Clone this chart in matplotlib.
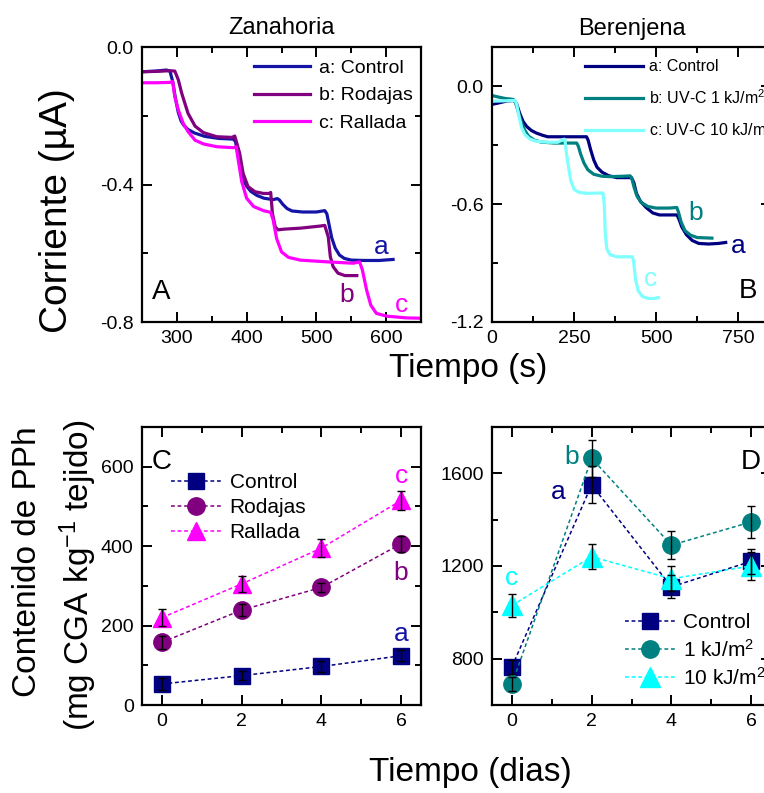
import matplotlib
matplotlib.use("Agg")
import matplotlib.pyplot as plt
from matplotlib.ticker import MultipleLocator
import numpy as np

plt.rcParams['font.family'] = ['Liberation Sans', 'DejaVu Sans']
plt.rcParams['mathtext.fontset'] = 'custom'
plt.rcParams['mathtext.rm'] = 'Liberation Sans'
plt.rcParams['mathtext.it'] = 'Liberation Sans:italic'
plt.rcParams['axes.unicode_minus'] = False

# ---------------- Panel A: Zanahoria amperometric traces ----------------
zan_a_t = [250, 270, 285, 290, 294, 298, 302, 306, 310, 316, 325, 340, 360, 381, 384, 387,
           391, 395, 400, 406, 415, 425, 438, 444, 447, 452, 458, 465, 480, 500, 512, 515,
           518, 522, 527, 533, 540, 550, 570, 590, 610]
zan_a_i = [-0.072, -0.070, -0.067, -0.070, -0.100, -0.150, -0.190, -0.215, -0.228, -0.240,
           -0.250, -0.260, -0.266, -0.268, -0.275, -0.305, -0.350, -0.385, -0.405, -0.420,
           -0.432, -0.440, -0.444, -0.441, -0.445, -0.458, -0.470, -0.477, -0.480, -0.480,
           -0.476, -0.485, -0.515, -0.555, -0.585, -0.605, -0.615, -0.620, -0.621, -0.621, -0.618]

zan_b_t = [250, 270, 290, 297, 302, 307, 316, 326, 338, 357, 379, 383, 390, 395, 402, 412,
           424, 433, 434.5, 437, 441, 445, 453, 477, 505, 512, 517, 520, 524, 531, 541, 558]
zan_b_i = [-0.072, -0.071, -0.069, -0.070, -0.095, -0.135, -0.193, -0.230, -0.249, -0.261,
           -0.263, -0.259, -0.309, -0.368, -0.406, -0.421, -0.426, -0.426, -0.423, -0.484,
           -0.523, -0.532, -0.530, -0.527, -0.521, -0.519, -0.552, -0.610, -0.639, -0.658,
           -0.665, -0.665]

zan_c_t = [250, 270, 290, 294, 297, 302, 309, 316, 326, 338, 357, 381, 385, 388, 393, 400,
           410, 424, 434.5, 438, 443, 450, 460, 477, 515, 553, 562, 566, 572, 578, 586,
           601, 629, 649]
zan_c_i = [-0.104, -0.104, -0.103, -0.100, -0.144, -0.183, -0.222, -0.246, -0.271, -0.282,
           -0.290, -0.293, -0.290, -0.329, -0.392, -0.440, -0.464, -0.476, -0.481, -0.503,
           -0.557, -0.596, -0.612, -0.620, -0.625, -0.629, -0.625, -0.649, -0.707, -0.751,
           -0.775, -0.783, -0.788, -0.789]

# ---------------- Panel B: Berenjena amperometric traces ----------------
ber_a_t = [0, 20, 45, 68, 75, 85, 95, 106, 120, 135, 155, 170, 220, 288, 293, 300, 310, 320,
           335, 355, 380, 425, 432, 440, 452, 470, 490, 510, 563, 568, 578, 592, 610, 630,
           660, 690, 712]
ber_a_i = [-0.092, -0.085, -0.075, -0.072, -0.090, -0.140, -0.180, -0.205, -0.225, -0.238,
           -0.250, -0.257, -0.257, -0.257, -0.275, -0.320, -0.375, -0.412, -0.437, -0.455,
           -0.465, -0.465, -0.490, -0.545, -0.585, -0.618, -0.645, -0.655, -0.655, -0.670,
           -0.715, -0.755, -0.785, -0.800, -0.803, -0.800, -0.795]

ber_b_t = [0, 20, 40, 65, 72, 80, 90, 100, 112, 130, 150, 190, 258, 263, 270, 280, 292, 310,
           335, 360, 400, 421, 426, 433, 442, 455, 475, 500, 540, 563, 568, 576, 588, 605,
           625, 670]
ber_b_i = [-0.047, -0.055, -0.062, -0.067, -0.085, -0.130, -0.185, -0.225, -0.255, -0.275,
           -0.284, -0.289, -0.289, -0.305, -0.345, -0.390, -0.425, -0.448, -0.458, -0.460,
           -0.458, -0.456, -0.470, -0.515, -0.560, -0.592, -0.612, -0.620, -0.620, -0.617,
           -0.640, -0.690, -0.735, -0.758, -0.770, -0.773]

ber_c_t = [0, 40, 70, 75, 82, 90, 100, 115, 135, 170, 200, 218, 222, 226, 232, 240, 250, 265,
           290, 338, 342, 345, 350, 360, 380, 428, 432, 437, 445, 458, 475, 495, 507]
ber_c_i = [-0.076, -0.074, -0.072, -0.090, -0.150, -0.210, -0.245, -0.268, -0.280, -0.285,
           -0.285, -0.270, -0.270, -0.330, -0.400, -0.480, -0.525, -0.540, -0.545, -0.543,
           -0.600, -0.750, -0.830, -0.858, -0.868, -0.868, -0.900, -0.980, -1.040, -1.070,
           -1.080, -1.080, -1.076]

# ---------------- Panels C and D: phenolic content ----------------
dias = [0, 2, 4, 6]

zan_control = [53, 74, 97, 124]
zan_control_err = [14, 12, 13, 14]
zan_rodajas = [158, 239, 296, 406]
zan_rodajas_err = [17, 16, 12, 20]
zan_rallada = [220, 305, 395, 515]
zan_rallada_err = [22, 20, 22, 25]

ber_control = [765, 1550, 1110, 1220]
ber_control_err = [30, 80, 50, 55]
ber_1kj = [690, 1665, 1290, 1390]
ber_1kj_err = [30, 80, 60, 70]
ber_10kj = [1030, 1240, 1145, 1200]
ber_10kj_err = [50, 55, 55, 60]

# colours
c_blue = '#1414A6'
c_purple = '#800080'
c_magenta = '#FF00FF'
c_navy = '#000080'
c_teal = '#008080'
c_lcyan = '#80FFFF'
c_cyan = '#00FFFF'

W, H = 764, 793
fig = plt.figure(figsize=(W / 100, H / 100), dpi=100)


def px_axes(left, top, right, bottom):
    return fig.add_axes([left / W, 1 - bottom / H, (right - left) / W, (bottom - top) / H])


def style(ax):
    for s in ax.spines.values():
        s.set_linewidth(1.6)
    ax.tick_params(which='both', direction='in', top=True, right=True, width=1.4,
                   labelsize=14, pad=6)
    ax.tick_params(which='major', length=7)
    ax.tick_params(which='minor', length=4)


axA = px_axes(142, 47, 421, 322)
axB = px_axes(492, 47, 771, 322)
axC = px_axes(142, 427, 421, 705)
axD = px_axes(492, 427, 771, 705)
for ax in (axA, axB, axC, axD):
    style(ax)

# ---- A ----
lw = 2.3
axA.plot(zan_a_t, zan_a_i, color=c_blue, lw=lw, label='a: Control')
axA.plot(zan_b_t, zan_b_i, color=c_purple, lw=lw, label='b: Rodajas')
axA.plot(zan_c_t, zan_c_i, color=c_magenta, lw=lw, label='c: Rallada')
axA.set_xlim(250, 650)
axA.set_ylim(-0.8, 0.0)
axA.xaxis.set_major_locator(MultipleLocator(100))
axA.xaxis.set_minor_locator(MultipleLocator(50))
axA.yaxis.set_major_locator(MultipleLocator(0.4))
axA.yaxis.set_minor_locator(MultipleLocator(0.2))
axA.yaxis.set_major_formatter(matplotlib.ticker.FormatStrFormatter('%.1f'))
axA.legend(loc='upper left', bbox_to_anchor=(0.40, 0.955), frameon=False, fontsize=14,
           handlelength=2.9, handletextpad=0.45, labelspacing=0.5, borderpad=0,
           borderaxespad=0)
axA.text(593, -0.582, 'a', color=c_blue, fontsize=19, ha='center', va='center')
axA.text(543, -0.722, 'b', color=c_purple, fontsize=19, ha='center', va='center')
axA.text(622, -0.752, 'c', color=c_magenta, fontsize=19, ha='center', va='center')
axA.text(278, -0.712, 'A', color='black', fontsize=20, ha='center', va='center')
axA.set_title('Zanahoria', fontsize=17, pad=9)

# ---- B ----
axB.plot(ber_a_t, ber_a_i, color=c_navy, lw=lw, label='a: Control')
axB.plot(ber_b_t, ber_b_i, color=c_teal, lw=lw, label='b: UV-C 1 kJ/m$^2$')
axB.plot(ber_c_t, ber_c_i, color=c_lcyan, lw=lw, label='c: UV-C 10 kJ/m$^2$')
axB.set_xlim(0, 850)
axB.set_ylim(-1.2, 0.2)
axB.xaxis.set_major_locator(MultipleLocator(250))
axB.xaxis.set_minor_locator(MultipleLocator(125))
axB.yaxis.set_major_locator(MultipleLocator(0.6))
axB.yaxis.set_minor_locator(MultipleLocator(0.3))
axB.yaxis.set_major_formatter(matplotlib.ticker.FormatStrFormatter('%.1f'))
axB.legend(loc='upper left', bbox_to_anchor=(0.335, 0.955), frameon=False, fontsize=11.5,
           handlelength=3.6, handletextpad=0.4, labelspacing=0.85, borderpad=0,
           borderaxespad=0)
axB.text(619, -0.647, 'b', color=c_teal, fontsize=19, ha='center', va='center')
axB.text(751, -0.815, 'a', color=c_navy, fontsize=19, ha='center', va='center')
axB.text(482, -0.983, 'c', color=c_lcyan, fontsize=19, ha='center', va='center')
axB.text(781, -1.04, 'B', color='black', fontsize=20, ha='center', va='center')
axB.set_title('Berenjena', fontsize=17, pad=9)

# ---- C ----
dash = (0, (2.5, 1.8))
ekw = dict(ecolor='black', elinewidth=1.0, capsize=3, capthick=1.0, zorder=3)


def series(ax, x, y, err, color, marker, ms, label):
    cont = ax.errorbar(x, y, yerr=err, color=color, marker=marker, ms=ms, ls=dash, lw=1.1,
                       **ekw)
    # error whiskers are drawn on top of the markers
    line = cont.lines[0]
    line.set_zorder(2)
    line.set_label(label)
    return line


lnC = [series(axC, dias, zan_control, zan_control_err, c_navy, 's', 11, 'Control'),
       series(axC, dias, zan_rodajas, zan_rodajas_err, c_purple, 'o', 12.5, 'Rodajas'),
       series(axC, dias, zan_rallada, zan_rallada_err, c_magenta, '^', 13.5, 'Rallada')]
axC.set_xlim(-0.5, 6.5)
axC.set_ylim(0, 700)
axC.xaxis.set_major_locator(MultipleLocator(2))
axC.xaxis.set_minor_locator(MultipleLocator(1))
axC.yaxis.set_major_locator(MultipleLocator(200))
axC.yaxis.set_minor_locator(MultipleLocator(100))
axC.legend(handles=lnC, loc='upper left', bbox_to_anchor=(0.105, 0.835), frameon=False,
           fontsize=15, handlelength=2.4, handletextpad=0.4, labelspacing=0.3,
           borderpad=0, borderaxespad=0, numpoints=1)
axC.text(6, 577, 'c', color=c_magenta, fontsize=19, ha='center', va='center')
axC.text(6, 333, 'b', color=c_purple, fontsize=19, ha='center', va='center')
axC.text(6, 180, 'a', color=c_blue, fontsize=19, ha='center', va='center')
axC.text(0.0, 612, 'C', color='black', fontsize=20, ha='center', va='center')

# ---- D ----
lnD = [series(axD, dias, ber_control, ber_control_err, c_navy, 's', 11, 'Control'),
       series(axD, dias, ber_1kj, ber_1kj_err, c_teal, 'o', 12.5, '1 kJ/m$^2$'),
       series(axD, dias, ber_10kj, ber_10kj_err, c_cyan, '^', 14, '10 kJ/m$^2$')]
axD.set_xlim(-0.5, 6.5)
axD.set_ylim(600, 1800)
axD.xaxis.set_major_locator(MultipleLocator(2))
axD.xaxis.set_minor_locator(MultipleLocator(1))
axD.yaxis.set_major_locator(MultipleLocator(400))
axD.yaxis.set_minor_locator(MultipleLocator(200))
axD.legend(handles=lnD, loc='upper left', bbox_to_anchor=(0.475, 0.33), frameon=False,
           fontsize=15, handlelength=2.4, handletextpad=0.4, labelspacing=0.3,
           borderpad=0, borderaxespad=0, numpoints=1)
axD.text(1.5, 1670, 'b', color=c_teal, fontsize=19, ha='center', va='center')
axD.text(1.17, 1520, 'a', color=c_navy, fontsize=19, ha='center', va='center')
axD.text(0.0, 1150, 'c', color=c_cyan, fontsize=19, ha='center', va='center')
axD.text(6.0, 1650, 'D', color='black', fontsize=20, ha='center', va='center')

# ---- shared axis labels ----
fig.text(57 / W, 1 - 211 / H, 'Corriente (\u00b5A)', rotation=90, fontsize=28,
         ha='center', va='center')
fig.text(468 / W, 1 - 368 / H, 'Tiempo (s)', fontsize=24, ha='center', va='center')
fig.text(28 / W, 1 - 562 / H, 'Contenido de PPh', rotation=90, fontsize=24,
         ha='center', va='center')
fig.text(78 / W, 1 - 575 / H, '(mg CGA kg$^{-1}$ tejido)', rotation=90, fontsize=24,
         ha='center', va='center')
fig.text(470 / W, 1 - 773 / H, 'Tiempo (dias)', fontsize=24, ha='center', va='center')

fig.savefig('out.png', dpi=100)
